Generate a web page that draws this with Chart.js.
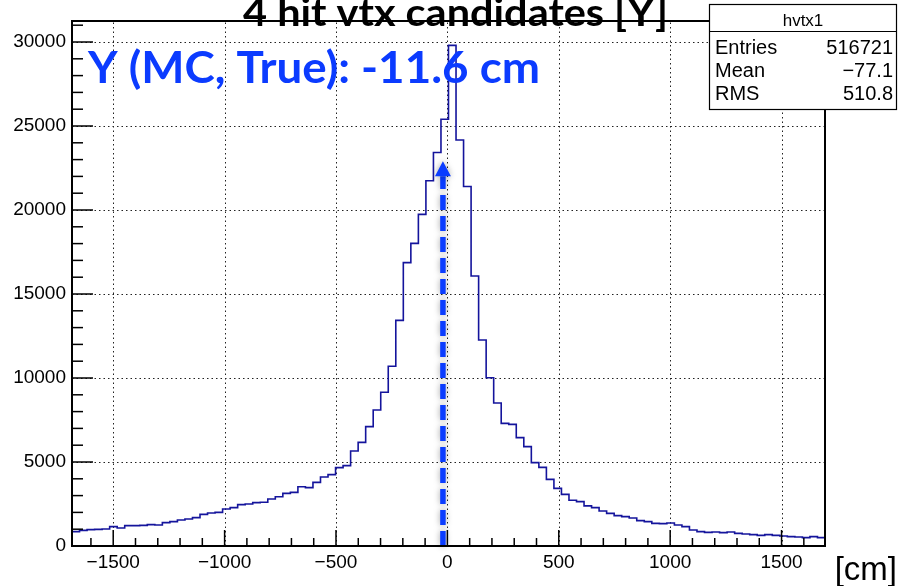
<!DOCTYPE html>
<html>
<head>
<meta charset="utf-8">
<script src="https://cdn.jsdelivr.net/npm/chart.js@4.4.1/dist/chart.umd.min.js"></script>
<style>
  html, body { margin: 0; padding: 0; background: #fff; }
  #cadre { width: 900px; height: 586px; }
</style>
</head>
<body>
<div id="cadre"><canvas id="graphique-hvtx" width="900" height="586"></canvas></div>
<script>
// histogramme hvtx1 : 100 bins entre xMin et xMax
const xMin = -1685
const xMax = 1695
const binWidth = 33.8
const counts = [
  853, 933, 972, 992, 1012, 1151, 1071, 1210, 1210, 1230,
  1270, 1250, 1389, 1448, 1548, 1607, 1687, 1885, 1964, 2004,
  2202, 2282, 2460, 2500, 2580, 2600, 2797, 2936, 3135, 3194,
  3531, 3472, 3790, 4107, 4246, 4663, 4782, 5655, 6170, 7103,
  8095, 9156, 10700, 13430, 16865, 18015, 19740, 21740, 23420, 25400,
  29800, 24170, 21400, 16070, 12261, 10018, 8510, 7301, 7241, 6448,
  5913, 4960, 4683, 3968, 3432, 3075, 2720, 2639, 2390, 2282,
  2083, 1944, 1806, 1746, 1667, 1508, 1448, 1349, 1329, 1369,
  1250, 1151, 952, 853, 813, 833, 794, 833, 754, 714,
  675, 635, 675, 635, 595, 556, 536, 496, 556, 496
]
const yMax = 31250

const xTicks = [-1500, -1000, -500, 0, 500, 1000, 1500]
const xTickLabels = ['\u22121500', '\u22121000', '\u2212500', '0', '500', '1000', '1500']
const yTicks = [0, 5000, 10000, 15000, 20000, 25000, 30000]
const yTickLabels = ['0', '5000', '10000', '15000', '20000', '25000', '30000']

const statsTitle = 'hvtx1'
const statsLabels = ['Entries', 'Mean', 'RMS']
const statsValues = ['516721', '\u221277.1', '510.8']

const titre = '4 hit vtx candidates [Y]'
const note = 'Y (MC, True): -11.6 cm'
const axisTitle = '[cm]'
const arrowX = -20        // position de la flèche (telle que dessinée)
const arrowTip = 22900    // hauteur de la pointe

// points du contour : bord gauche de chaque bin + bord droit final
const points = counts.map((c, i) => ({ x: xMin + i * binWidth, y: c }))
points.push({ x: xMax, y: counts[counts.length - 1] })

const helv = '"Liberation Sans", Arial, sans-serif'

function ligne(ctx, x1, y1, x2, y2) {
  ctx.beginPath()
  ctx.moveTo(x1, y1)
  ctx.lineTo(x2, y2)
  ctx.stroke()
}

// texte ajusté à une largeur donnée
function texteLargeur(ctx, txt, x, y, largeur) {
  const w = ctx.measureText(txt).width
  ctx.save()
  ctx.translate(x, y)
  ctx.scale(largeur / w, 1)
  ctx.fillText(txt, 0, 0)
  ctx.restore()
}

const dessinRoot = {
  id: 'dessinRoot',
  beforeDatasetsDraw(chart) {
    const { ctx, chartArea: a, scales: { x, y } } = chart
    ctx.save()
    ctx.strokeStyle = '#222'
    ctx.lineWidth = 1
    ctx.setLineDash([1.5, 3])
    for (const t of xTicks) {
      const px = Math.round(x.getPixelForValue(t)) + 0.5
      ligne(ctx, px, a.bottom, px, a.top)
    }
    for (const t of yTicks.slice(1)) {
      const py = Math.round(y.getPixelForValue(t)) + 0.5
      ligne(ctx, a.left, py, a.right, py)
    }
    ctx.restore()
  },
  afterDatasetsDraw(chart) {
    const { ctx, chartArea: a, scales: { x, y } } = chart
    ctx.save()

    // fleche pointillée bleue
    const ax = x.getPixelForValue(arrowX)
    const yTip = y.getPixelForValue(arrowTip)
    const yBase = yTip + 15
    ctx.shadowColor = 'rgba(0,0,0,0.35)'
    ctx.shadowBlur = 6
    ctx.strokeStyle = '#0a3cff'
    ctx.lineWidth = 5.5
    ctx.setLineDash([15, 6])
    ligne(ctx, ax, y.getPixelForValue(0), ax, yBase)
    ctx.setLineDash([])
    ctx.fillStyle = '#0a3cff'
    ctx.beginPath()
    ctx.moveTo(ax, yTip)
    ctx.lineTo(ax - 8, yBase)
    ctx.lineTo(ax + 8, yBase)
    ctx.closePath()
    ctx.fill()
    ctx.shadowBlur = 0
    ctx.shadowColor = 'transparent'

    // cadre
    ctx.strokeStyle = '#000'
    ctx.lineWidth = 2
    ctx.strokeRect(a.left, a.top, a.right - a.left, a.bottom - a.top)

    // graduations
    ctx.lineWidth = 1.5
    for (let v = 0; v <= yMax; v += 1000) {
      const py = y.getPixelForValue(v)
      const long = v % 5000 === 0 ? 21 : 11
      ligne(ctx, a.left, py, a.left + long, py)
    }
    for (let v = -1600; v <= 1600; v += 100) {
      const px = x.getPixelForValue(v)
      const long = v % 500 === 0 ? 16 : 8
      ligne(ctx, px, a.bottom, px, a.bottom - long)
    }

    // étiquettes
    ctx.fillStyle = '#000'
    ctx.font = '19px ' + helv
    ctx.textAlign = 'right'
    ctx.textBaseline = 'middle'
    yTicks.forEach((t, i) => ctx.fillText(yTickLabels[i], a.left - 6, y.getPixelForValue(t)))
    ctx.textAlign = 'center'
    ctx.textBaseline = 'alphabetic'
    xTicks.forEach((t, i) => ctx.fillText(xTickLabels[i], x.getPixelForValue(t), 568))

    ctx.font = '33px ' + helv
    ctx.textAlign = 'right'
    ctx.fillText(axisTitle, 897, 580)

    // titre (coupé en haut)
    ctx.textAlign = 'left'
    ctx.font = 'bold 39px Lato, sans-serif'
    texteLargeur(ctx, titre, 243, 26, 425)

    // annotation bleue
    ctx.fillStyle = '#0b3bff'
    ctx.font = 'bold 43px Lato, sans-serif'
    texteLargeur(ctx, note, 88, 83, 452)

    // boite de stats
    ctx.fillStyle = '#fff'
    ctx.fillRect(709, 4, 187, 106)
    ctx.strokeStyle = '#000'
    ctx.lineWidth = 1.2
    ctx.strokeRect(709.5, 4.5, 187, 105)
    ligne(ctx, 709.5, 31.5, 896.5, 31.5)
    ctx.fillStyle = '#000'
    ctx.font = '17px ' + helv
    ctx.textAlign = 'center'
    ctx.fillText(statsTitle, 803, 26)
    ctx.font = '20px ' + helv
    statsLabels.forEach((l, i) => {
      const by = 54 + i * 23
      ctx.textAlign = 'left'
      ctx.fillText(l, 715, by)
      ctx.textAlign = 'right'
      ctx.fillText(statsValues[i], 893, by)
    })
    ctx.restore()
  }
}

const config = {
  type: 'line',
  data: {
    datasets: [{
      label: 'hvtx1',
      data: points,
      stepped: true,
      borderColor: '#14149c',
      borderWidth: 1.6,
      pointRadius: 0,
      fill: false
    }]
  },
  options: {
    responsive: false,
    animation: false,
    devicePixelRatio: 1,
    layout: { padding: { left: 72, right: 75, top: 21, bottom: 40 } },
    scales: {
      x: { type: 'linear', min: xMin, max: xMax, display: false },
      y: { type: 'linear', min: 0, max: yMax, display: false }
    },
    plugins: { legend: { display: false }, tooltip: { enabled: false } }
  },
  plugins: [dessinRoot]
}

const graphique = new Chart(document.querySelector('#graphique-hvtx'), config)
</script>
</body>
</html>
